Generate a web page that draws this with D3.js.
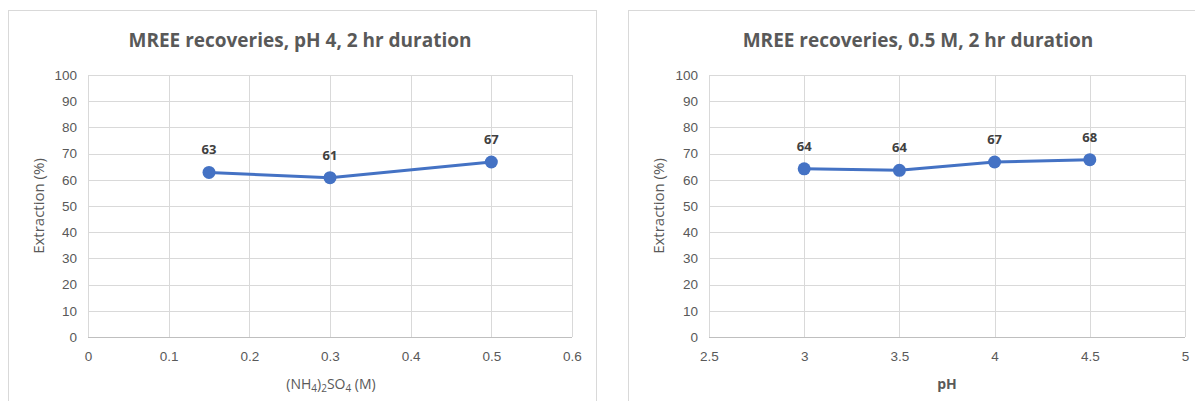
<!DOCTYPE html>
<html lang="en">
<head>
<meta charset="utf-8">
<title>MREE recoveries</title>
<script src="https://cdn.jsdelivr.net/npm/d3@7/dist/d3.min.js"></script>
<style>
  body { margin: 0; background: #fff; }
  svg { display: block; font-family: "Open Sans", sans-serif; }
</style>
</head>
<body>
<script>
// left chart: ammonium sulfate concentration
var conc = [0.15, 0.3, 0.5];
var concExtraction = [62.8, 60.8, 66.8];
var concLabels = ["63", "61", "67"];
var concTicks = [0, 0.1, 0.2, 0.3, 0.4, 0.5, 0.6];

// right chart: pH
var ph = [3, 3.5, 4, 4.5];
var phExtraction = [64.2, 63.6, 66.8, 67.7];
var phLabels = ["64", "64", "67", "68"];
var phTicks = [2.5, 3, 3.5, 4, 4.5, 5];

var yTicks = [0, 10, 20, 30, 40, 50, 60, 70, 80, 90, 100];

var w = 1195, h = 401;
var svg = d3.select("body").append("svg")
            .attr("width", w)
            .attr("height", h);

function panel(opt) {
  var g = svg.append("g");

  g.append("rect")
   .attr("x", opt.box[0] + 0.5).attr("y", opt.box[1] + 0.5)
   .attr("width", opt.box[2]).attr("height", opt.box[3])
   .attr("fill", "#fff").attr("stroke", "#d9d9d9");

  var x = d3.scaleLinear().domain(opt.xDomain).range([opt.left, opt.right]);
  var y = d3.scaleLinear().domain([0, 100]).range([337, 75]);

  // gridlines
  g.selectAll(".hgrid").data(yTicks).enter().append("line")
   .attr("x1", opt.left).attr("x2", opt.right)
   .attr("y1", d => Math.round(y(d)) + 0.5).attr("y2", d => Math.round(y(d)) + 0.5)
   .attr("stroke", d => d === 0 ? "#bfbfbf" : "#d9d9d9")
   .attr("stroke-width", 1);

  g.selectAll(".vgrid").data(opt.xTicks).enter().append("line")
   .attr("x1", d => Math.round(x(d)) + 0.5).attr("x2", d => Math.round(x(d)) + 0.5)
   .attr("y1", y(100)).attr("y2", y(0))
   .attr("stroke", "#d9d9d9");

  // axes (text only, lines are the grid)
  var yAxis = d3.axisLeft(y).tickValues(yTicks).tickSize(0).tickPadding(11);
  g.append("g").attr("transform", "translate(" + opt.left + ",0)")
   .call(yAxis)
   .call(a => a.select(".domain").remove())
   .selectAll("text").attr("fill", "#595959").style("font-size", "13.5px");

  var xAxis = d3.axisBottom(x).tickValues(opt.xTicks).tickSize(0).tickPadding(14)
                .tickFormat(d3.format("~g"));
  g.append("g").attr("transform", "translate(0," + y(0) + ")")
   .call(xAxis)
   .call(a => a.select(".domain").remove())
   .selectAll("text").attr("fill", "#595959").style("font-size", "13.5px");

  // title
  g.append("text")
   .attr("x", opt.titleX).attr("y", 47)
   .attr("text-anchor", "middle")
   .attr("fill", "#595959")
   .style("font-size", "19px").style("font-weight", "bold")
   .text(opt.title);

  // y axis title
  g.append("text")
   .attr("transform", "translate(" + opt.yTitleX + "," + ((y(0) + y(100)) / 2) + ") rotate(-90)")
   .attr("text-anchor", "middle")
   .attr("fill", "#595959")
   .style("font-size", "15px")
   .text("Extraction (%)");

  // x axis title
  opt.xTitle(g.append("text")
   .attr("x", opt.xTitleX).attr("y", 389)
   .attr("text-anchor", "middle")
   .attr("fill", "#595959")
   .style("font-size", "14px"));

  var pts = opt.xs.map((v, i) => [v, opt.ys[i], opt.labels[i]]);

  g.append("path")
   .datum(pts)
   .attr("fill", "none")
   .attr("stroke", "#4472c4")
   .attr("stroke-width", 3)
   .attr("stroke-linejoin", "round")
   .attr("d", d3.line().x(d => x(d[0])).y(d => y(d[1])));

  g.selectAll(".pt").data(pts).enter().append("circle")
   .attr("cx", d => x(d[0])).attr("cy", d => y(d[1]))
   .attr("r", 6.5)
   .attr("fill", "#4472c4");

  g.selectAll(".lbl").data(pts).enter().append("text")
   .attr("x", d => x(d[0])).attr("y", d => y(d[1]) - 18)
   .attr("text-anchor", "middle")
   .attr("fill", "#404040")
   .style("font-size", "13px").style("font-weight", "bold")
   .text(d => d[2]);
}

panel({
  box: [8, 10, 588, 400],
  xDomain: [0, 0.6], left: 88, right: 572,
  xTicks: concTicks,
  xs: conc, ys: concExtraction, labels: concLabels,
  title: "MREE recoveries, pH 4, 2 hr duration", titleX: 300,
  yTitleX: 44,
  xTitleX: 331,
  xTitle: t => {
    t.append("tspan").text("(NH");
    t.append("tspan").attr("dy", 3).style("font-size", "10px").text("4");
    t.append("tspan").attr("dy", -3).text(")");
    t.append("tspan").attr("dy", 3).style("font-size", "10px").text("2");
    t.append("tspan").attr("dy", -3).text("SO");
    t.append("tspan").attr("dy", 3).style("font-size", "10px").text("4");
    t.append("tspan").attr("dy", -3).text(" (M)");
  }
});

panel({
  box: [628, 10, 570, 400],
  xDomain: [2.5, 5], left: 709, right: 1185,
  xTicks: phTicks,
  xs: ph, ys: phExtraction, labels: phLabels,
  title: "MREE recoveries, 0.5 M, 2 hr duration", titleX: 918,
  yTitleX: 664,
  xTitleX: 947,
  xTitle: t => t.style("font-weight", "bold").text("pH")
});
</script>
</body>
</html>
